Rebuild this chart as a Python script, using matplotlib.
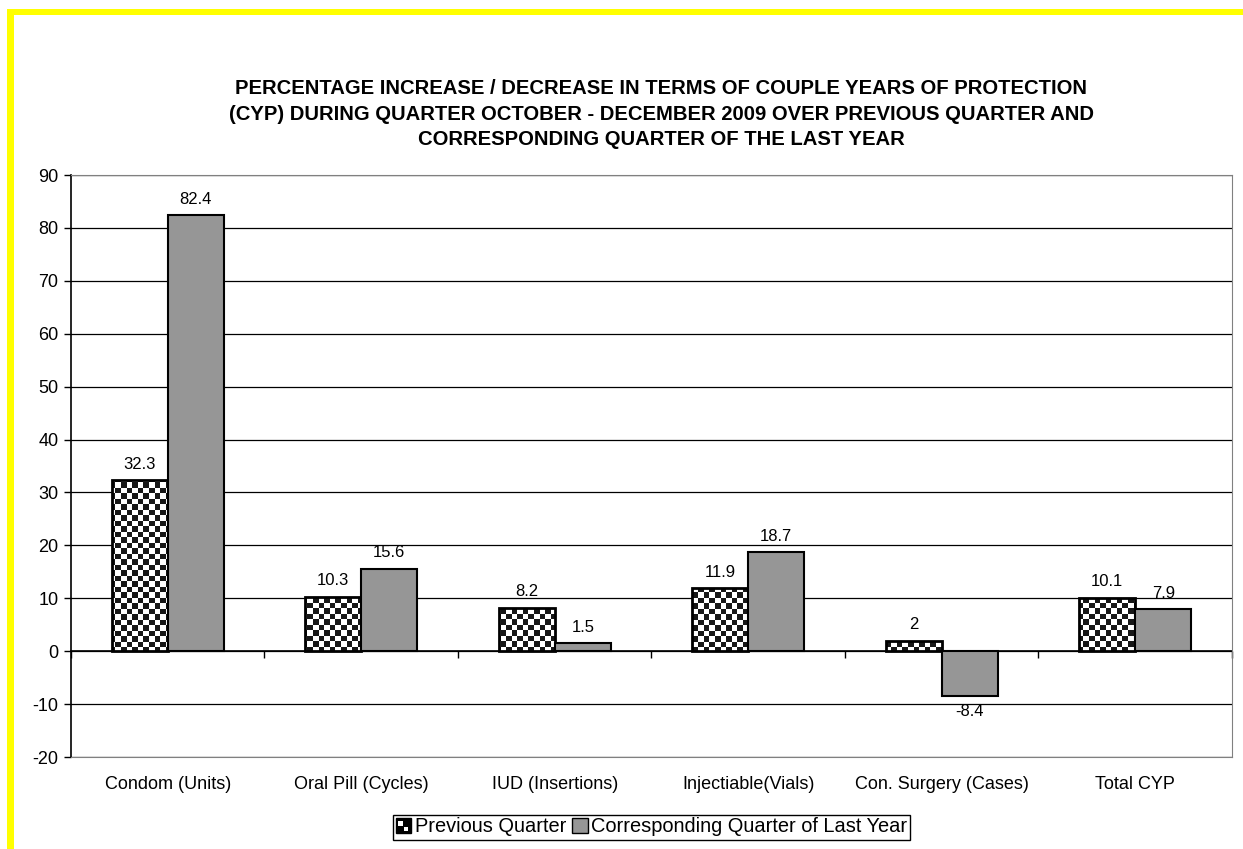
import numpy as np
import matplotlib
matplotlib.use('Agg')
import matplotlib.pyplot as plt
from matplotlib.patches import Rectangle
from matplotlib.legend_handler import HandlerBase

plt.rcParams['font.family'] = ['Liberation Sans', 'DejaVu Sans']
plt.rcParams['axes.unicode_minus'] = False

categories = ['Condom (Units)', 'Oral Pill (Cycles)', 'IUD (Insertions)',
              'Injectiable(Vials)', 'Con. Surgery (Cases)', 'Total CYP']
prev_quarter = [32.3, 10.3, 8.2, 11.9, 2, 10.1]
last_year = [82.4, 15.6, 1.5, 18.7, -8.4, 7.9]
series_names = ['Previous Quarter', 'Corresponding Quarter of Last Year']
title = ('PERCENTAGE INCREASE / DECREASE IN TERMS OF COUPLE YEARS OF PROTECTION\n'
         '(CYP) DURING QUARTER OCTOBER - DECEMBER 2009 OVER PREVIOUS QUARTER AND\n'
         'CORRESPONDING QUARTER OF THE LAST YEAR')
yticks = list(range(-20, 100, 10))

W, H = 1243, 849
fig = plt.figure(figsize=(W / 100, H / 100), dpi=100)
ax_left, ax_right, ax_top, ax_bot = 71, 1232, 175, 757
ax = fig.add_axes([ax_left / W, 1 - ax_bot / H, (ax_right - ax_left) / W, (ax_bot - ax_top) / H])

# yellow frame (top and left only)
fig.add_artist(Rectangle((7 / W, 0), 7 / W, 1 - 9 / H, transform=fig.transFigure,
                         color='#FFFF00', lw=0))
fig.add_artist(Rectangle((7 / W, 1 - 15 / H), 1 - 7 / W, 6 / H, transform=fig.transFigure,
                         color='#FFFF00', lw=0))

n = len(categories)
x = np.arange(n) + 0.5
bw = 0.29
ymin, ymax = yticks[0], yticks[-1]

bars1 = ax.bar(x - bw / 2, prev_quarter, bw, facecolor='none', edgecolor='black',
               linewidth=2, zorder=3)
bars2 = ax.bar(x + bw / 2, last_year, bw, facecolor='#969696', edgecolor='black',
               linewidth=1.5, zorder=3)

# checkerboard fill for first series
cell = 5.5
nx = int(round((ax_right - ax_left) / cell))
ny = int(round((ax_bot - ax_top) / cell))
checker = (np.add.outer(np.arange(ny), np.arange(nx)) % 2).astype(float)
for b in bars1:
    im = ax.imshow(checker, cmap='gray', extent=(0, n, ymin, ymax), aspect='auto',
                   interpolation='nearest', zorder=2, origin='lower', vmin=-0.1, vmax=1)
    im.set_clip_path(b)

ax.set_xlim(0, n)
ax.set_ylim(ymin, ymax)
ax.set_yticks(yticks)
ax.tick_params(axis='y', direction='out', length=5, width=1, labelsize=13, pad=4)
ax.yaxis.grid(True, color='black', linewidth=0.9)
ax.set_axisbelow(True)
ax.set_xticks(x)
ax.set_xticklabels(categories, fontsize=13)
ax.tick_params(axis='x', length=0, pad=14)
for s in ['top', 'right', 'bottom']:
    ax.spines[s].set_color('#808080')
ax.spines['left'].set_color('black')
ax.spines['left'].set_linewidth(1.2)

# category axis crossing at zero
sec = ax.secondary_xaxis((0 - ymin) / (ymax - ymin))
sec.set_xticks(np.arange(n + 1))
sec.set_xticklabels([])
sec.tick_params(direction='out', length=5, width=1, color='black')
sec.spines['bottom'].set_color('black')
sec.spines['bottom'].set_linewidth(1.2)

ax.bar_label(bars1, fmt='%g', padding=6, fontsize=12)
ax.bar_label(bars2, fmt='%g', padding=6, fontsize=12)

fig.text(661 / W, 1 - 114 / H, title, ha='center', va='center', fontsize=14.6,
         fontweight='bold', linespacing=1.42)


class CheckerHandler(HandlerBase):
    def create_artists(self, legend, orig_handle, xdescent, ydescent, width, height,
                       fontsize, trans):
        s = min(width, height)
        x0 = -xdescent + (width - s) / 2
        y0 = -ydescent + (height - s) / 2
        h = s / 2
        arts = [Rectangle((x0, y0), s, s, fc='black', ec='black', lw=1, transform=trans)]
        arts.append(Rectangle((x0 + h, y0 + h * 0.25), h * 0.6, h * 0.6, fc='white', lw=0,
                              transform=trans))
        arts.append(Rectangle((x0 + h * 0.3, y0 + h), h * 0.6, h * 0.6, fc='white', lw=0,
                              transform=trans))
        return arts


class BoxHandler(HandlerBase):
    def create_artists(self, legend, orig_handle, xdescent, ydescent, width, height,
                       fontsize, trans):
        s = min(width, height)
        x0 = -xdescent + (width - s) / 2
        y0 = -ydescent + (height - s) / 2
        return [Rectangle((x0, y0), s, s, fc='#969696', ec='black', lw=1, transform=trans)]


leg = fig.legend([bars1, bars2], series_names, loc='center',
                 bbox_to_anchor=((ax_left + ax_right) / 2 / W, 1 - 827 / H), ncol=2,
                 fontsize=14.4, frameon=True, fancybox=False, edgecolor='black',
                 framealpha=1, borderpad=0.15, borderaxespad=0, handlelength=0.8,
                 handleheight=0.8, handletextpad=0.15, columnspacing=0.3,
                 handler_map={bars1: CheckerHandler(), bars2: BoxHandler()})
leg.get_frame().set_linewidth(1)

fig.savefig('out.png', dpi=100)
